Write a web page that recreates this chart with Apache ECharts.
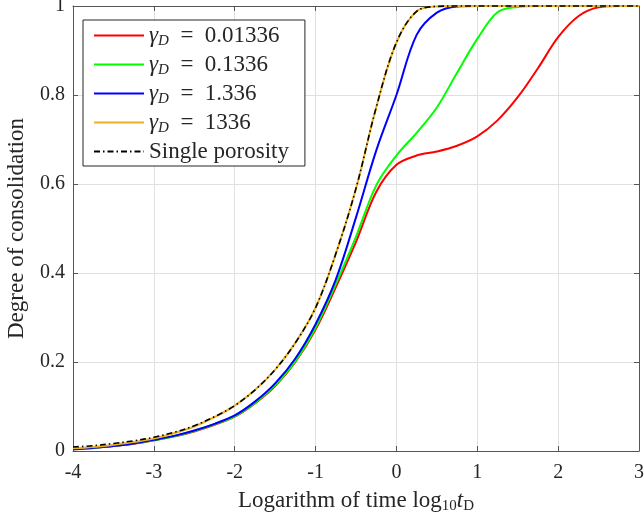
<!DOCTYPE html>
<html>
<head>
<meta charset="utf-8">
<script src="https://cdn.jsdelivr.net/npm/echarts@6/dist/echarts.min.js"></script>
<style>
  html, body { margin: 0; padding: 0; background: #fff; }
  #chart { width: 644px; height: 518px; }
</style>
</head>
<body>
<div id="chart"></div>
<script>
// 横轴 log10(tD)，步长 0.25
const logT = [-4, -3.75, -3.5, -3.25, -3, -2.75, -2.5, -2.25, -2, -1.75, -1.5, -1.25, -1, -0.75, -0.5, -0.25,
  0, 0.25, 0.5, 0.75, 1, 1.25, 1.5, 1.75, 2, 2.25, 2.5, 2.75, 3];

// 固结度
const gamma001336 = [0.004, 0.007, 0.011, 0.016, 0.024, 0.033, 0.044, 0.059, 0.077, 0.107, 0.146, 0.2, 0.273, 0.368, 0.47, 0.582,
  0.643, 0.664, 0.673, 0.686, 0.707, 0.743, 0.795, 0.86, 0.93, 0.977, 0.997, 1, 1];
const gamma01336 = [0.004, 0.007, 0.011, 0.017, 0.024, 0.033, 0.045, 0.06, 0.078, 0.108, 0.148, 0.202, 0.277, 0.375, 0.482, 0.597,
  0.664, 0.715, 0.772, 0.85, 0.926, 0.986, 0.998, 1, 1, 1, 1, 1, 1];
const gamma1336 = [0.004, 0.007, 0.011, 0.017, 0.025, 0.034, 0.046, 0.061, 0.08, 0.111, 0.152, 0.208, 0.285, 0.385, 0.525, 0.675,
  0.8, 0.935, 0.985, 0.999, 1, 1, 1, 1, 1, 1, 1, 1, 1];
const gammaBig = [0.006, 0.009, 0.014, 0.02, 0.028, 0.04, 0.055, 0.076, 0.102, 0.137, 0.183, 0.243, 0.322, 0.443, 0.59, 0.772,
  0.918, 0.988, 0.999, 1, 1, 1, 1, 1, 1, 1, 1, 1, 1];
const singlePorosity = [0.009, 0.012, 0.017, 0.023, 0.031, 0.042, 0.057, 0.077, 0.102, 0.137, 0.183, 0.243, 0.322, 0.443, 0.59, 0.772,
  0.918, 0.988, 0.999, 1, 1, 1, 1, 1, 1, 1, 1, 1, 1];

const xTicks = ['-4', '-3', '-2', '-1', '0', '1', '2', '3'];
const yTicks = ['0', '0.2', '0.4', '0.6', '0.8', '1'];

const serif = 'Liberation Serif';
const ink = '#262626';

const pair = ys => logT.map((x, i) => [x, ys[i]]);

const lineSeries = (name, ys, color, extra) => Object.assign({
  name, type: 'line', data: pair(ys),
  showSymbol: false, symbol: 'none', smooth: 0.35, clip: false,
  lineStyle: { color, width: 2 }, itemStyle: { color }
}, extra || {});

const frame = { show: true, onZero: false, lineStyle: { color: '#555', width: 1 } };
const ticks = { show: true, inside: true, length: 5, lineStyle: { color: '#555' } };

const chart = echarts.init(document.getElementById('chart'));
chart.setOption({
  backgroundColor: '#fff',
  animation: false,
  textStyle: { fontFamily: serif, color: ink },
  grid: { left: 73, right: 5, top: 6, bottom: 67, outerBoundsMode: 'none', containLabel: false },
  legend: {
    left: 83, top: 20, orient: 'vertical',
    itemWidth: 50, itemHeight: 14, itemGap: 4.5,
    padding: [4, 16, 3, 10],
    itemStyle: { opacity: 0 },
    backgroundColor: '#fff', borderColor: ink, borderWidth: 1,
    textStyle: {
      fontFamily: serif, color: ink, fontSize: 23,
      rich: {
        g: { fontFamily: serif, fontSize: 23, fontStyle: 'italic', lineHeight: 26 },
        d: { fontFamily: serif, fontSize: 15, fontStyle: 'italic', lineHeight: 15, verticalAlign: 'bottom' },
        t: { fontFamily: serif, fontSize: 23, lineHeight: 26 }
      }
    },
    formatter: name => name.indexOf('γD') === 0
      ? '{g|γ}{d|D}{t|  =  ' + name.split('= ')[1] + '}'
      : '{t|' + name + '}'
  },
  xAxis: [{
    type: 'value', min: -4, max: 3, interval: 1, position: 'bottom',
    name: '{n|Logarithm of time log}{s|10}{i|t}{s|D}', nameLocation: 'middle', nameGap: 37,
    nameTextStyle: {
      rich: {
        n: { fontFamily: serif, fontSize: 23, color: ink, lineHeight: 26 },
        i: { fontFamily: serif, fontSize: 23, color: ink, fontStyle: 'italic', lineHeight: 26 },
        s: { fontFamily: serif, fontSize: 15, color: ink, lineHeight: 15, verticalAlign: 'bottom' }
      }
    },
    axisLine: frame, axisTick: ticks,
    axisLabel: { fontFamily: serif, fontSize: 20, color: ink, margin: 12, formatter: v => xTicks[Math.round(v + 4)] },
    splitLine: { show: true, lineStyle: { color: '#e0e0e0', width: 1 } }
  }, {
    type: 'value', min: -4, max: 3, interval: 1, position: 'top',
    axisLine: frame, axisTick: ticks,
    axisLabel: { show: false }, splitLine: { show: false }
  }],
  yAxis: [{
    type: 'value', min: 0, max: 1, interval: 0.2, position: 'left',
    name: 'Degree of consolidation', nameLocation: 'middle', nameGap: 45, nameRotate: 90,
    nameTextStyle: { fontFamily: serif, fontSize: 23, color: ink },
    axisLine: frame, axisTick: ticks,
    axisLabel: { fontFamily: serif, fontSize: 20, color: ink, margin: 8, formatter: v => yTicks[Math.round(v * 5)] },
    splitLine: { show: true, lineStyle: { color: '#e0e0e0', width: 1 } }
  }, {
    type: 'value', min: 0, max: 1, interval: 0.2, position: 'right',
    axisLine: frame, axisTick: ticks,
    axisLabel: { show: false }, splitLine: { show: false }
  }],
  series: [
    lineSeries('γD = 0.01336', gamma001336, '#ff0000'),
    lineSeries('γD = 0.1336', gamma01336, '#00ff00'),
    lineSeries('γD = 1.336', gamma1336, '#0000ff'),
    lineSeries('γD = 1336', gammaBig, '#EDB120'),
    lineSeries('Single porosity', singlePorosity, '#000000', {
      lineStyle: { color: '#000', width: 1.6, type: [6, 3, 1.5, 3] }
    })
  ]
});
</script>
</body>
</html>
